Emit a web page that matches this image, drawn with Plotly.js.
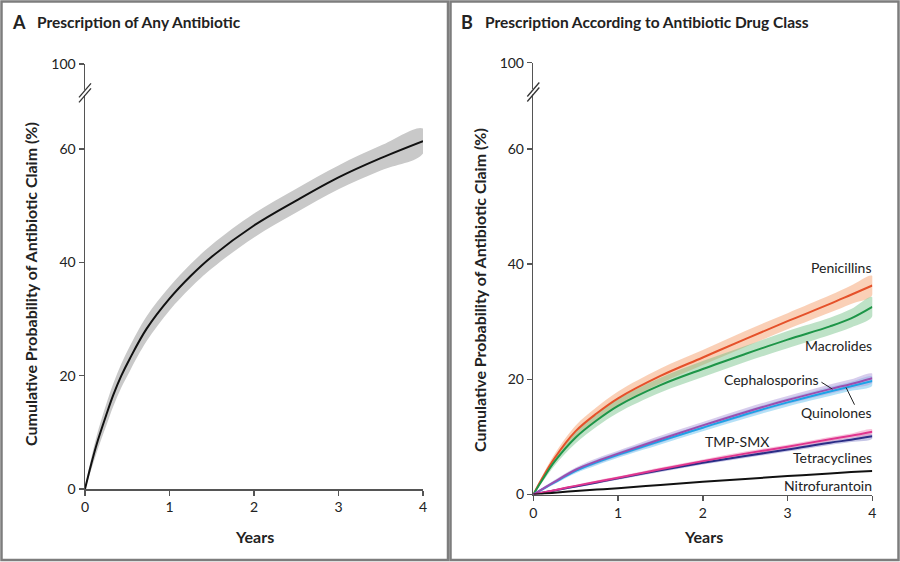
<!DOCTYPE html>
<html>
<head>
<meta charset="utf-8">
<script src="https://cdn.plot.ly/plotly-3.0.1.min.js"></script>
<style>html,body{margin:0;padding:0;background:#fff;}#chart{width:900px;height:562px;}</style>
</head>
<body>
<div id="chart"></div>
<script>
// ---------- DATA ----------
// Panel A: any antibiotic
const yearsA = [0, 0.07, 0.14, 0.25, 0.335, 0.43, 0.53, 0.73, 1.0, 1.25, 1.5, 2.0, 2.5, 3.0, 3.5, 4.0];
const anyAntibiotic = [0, 4.2, 8.0, 13.0, 16.6, 20.0, 23.0, 28.3, 33.6, 37.6, 41.0, 46.5, 50.9, 55.0, 58.4, 61.4];
const anyHalfCI = [0, 1.0, 1.5, 1.9, 2.0, 2.1, 2.2, 2.2, 2.1, 2.1, 2.1, 2.1, 2.1, 2.1, 2.2, 2.2];

// Panel B: by drug class
const yearsB = [0, 0.1, 0.25, 0.5, 0.75, 1, 1.5, 2, 2.5, 3, 3.5, 3.75, 4];
const penicillins    = [0, 2.7, 6.3, 11.0, 14.1, 16.7, 20.6, 23.8, 27.0, 30.1, 33.1, 34.7, 36.3];
const macrolides     = [0, 2.4, 5.7, 9.9, 12.9, 15.4, 19.0, 21.8, 24.4, 26.9, 29.2, 30.6, 32.6];
const cephalosporins = [0, 0.9, 2.2, 4.3, 5.8, 7.1, 9.6, 12.0, 14.3, 16.4, 18.3, 19.2, 20.2];
const quinolones     = [0, 0.85, 2.1, 4.1, 5.6, 6.9, 9.3, 11.6, 13.9, 16.0, 17.9, 18.8, 19.7];
const tmpSmx         = [0, 0.3, 0.75, 1.5, 2.2, 2.9, 4.4, 5.8, 7.1, 8.3, 9.6, 10.2, 10.9];
const tetracyclines  = [0, 0.3, 0.7, 1.4, 2.1, 2.8, 4.2, 5.5, 6.7, 7.8, 9.0, 9.5, 10.1];
const nitrofurantoin = [0, 0.1, 0.3, 0.6, 0.85, 1.1, 1.65, 2.2, 2.7, 3.2, 3.65, 3.9, 4.1];

const penHalfCI  = [0, 0.4, 0.7, 1.0, 1.1, 1.2, 1.3, 1.3, 1.4, 1.4, 1.5, 1.6, 1.7];
const macHalfCI  = [0, 0.4, 0.7, 1.0, 1.1, 1.2, 1.3, 1.4, 1.4, 1.5, 1.5, 1.6, 1.7];
const cephHalfCI = [0, 0.2, 0.3, 0.4, 0.5, 0.5, 0.6, 0.6, 0.7, 0.7, 0.8, 0.8, 0.8];
const quinHalfCI = [0, 0.2, 0.3, 0.4, 0.5, 0.5, 0.6, 0.6, 0.7, 0.7, 0.8, 0.8, 0.8];
const tmpHalfCI  = [0, 0.1, 0.15, 0.2, 0.25, 0.25, 0.3, 0.3, 0.35, 0.35, 0.4, 0.4, 0.4];
const tetHalfCI  = [0, 0.1, 0.15, 0.2, 0.25, 0.25, 0.3, 0.3, 0.35, 0.35, 0.4, 0.4, 0.4];

const yTickVals = [0, 20, 40, 60, 75];
const yTickText = ['0', '20', '40', '60', '100'];
const xTickVals = [0, 1, 2, 3, 4];

const classNames = ['Penicillins', 'Macrolides', 'Cephalosporins', 'Quinolones', 'TMP-SMX', 'Tetracyclines', 'Nitrofurantoin'];

// ---------- BUILD ----------
const FONT = 'Lato, "Open Sans", sans-serif';
const W = 900, H = 562;
const px = v => v / W, py = v => 1 - v / H;

function band(x, y, hw, color, xa, ya) {
  const up = y.map((v, i) => v + hw[i]);
  const lo = y.map((v, i) => Math.max(0, v - hw[i]));
  return {x: x.concat(x.slice().reverse()), y: up.concat(lo.slice().reverse()),
    type: 'scatter', mode: 'lines', fill: 'toself', fillcolor: color,
    line: {width: 0, shape: 'spline', smoothing: 1}, hoverinfo: 'skip', showlegend: false, xaxis: xa, yaxis: ya};
}
function line(x, y, color, w, xa, ya, name) {
  return {x: x, y: y, type: 'scatter', mode: 'lines', name: name,
    line: {color: color, width: w, shape: 'spline', smoothing: 1}, showlegend: false, xaxis: xa, yaxis: ya};
}

const series = [
  {y: penicillins, hw: penHalfCI, line: '#e5512a', fill: 'rgba(245,150,95,0.45)'},
  {y: macrolides, hw: macHalfCI, line: '#1d9548', fill: 'rgba(110,190,130,0.45)'},
  {y: quinolones, hw: quinHalfCI, line: '#1ea2e6', fill: 'rgba(120,200,240,0.55)'},
  {y: cephalosporins, hw: cephHalfCI, line: '#9a4fb0', fill: 'rgba(175,155,220,0.5)'},
  {y: tetracyclines, hw: tetHalfCI, line: '#2b2d86', fill: 'rgba(140,140,205,0.5)'},
  {y: tmpSmx, hw: tmpHalfCI, line: '#e0358f', fill: 'rgba(240,140,185,0.5)'},
];

const traces = [
  band(yearsA, anyAntibiotic, anyHalfCI, '#c9c9c9', 'x', 'y'),
  line(yearsA, anyAntibiotic, '#111', 2, 'x', 'y', 'Any antibiotic')
];
series.forEach(s => traces.push(band(yearsB, s.y, s.hw, s.fill, 'x2', 'y2')));
series.forEach(s => traces.push(line(yearsB, s.y, s.line, 2, 'x2', 'y2')));
traces.push(line(yearsB, nitrofurantoin, '#111', 2, 'x2', 'y2', 'Nitrofurantoin'));

const axisCommon = {
  showgrid: false, zeroline: false, showline: true, linecolor: '#555', linewidth: 1.5,
  ticks: 'outside', ticklen: 5, tickwidth: 1.5, tickcolor: '#555',
  tickfont: {family: FONT, size: 14, color: '#222'}, fixedrange: true
};
const xA = Object.assign({}, axisCommon, {domain: [px(85), px(423)], range: [0, 4], tickvals: xTickVals, anchor: 'y'});
const yA = Object.assign({}, axisCommon, {domain: [1 - 489 / H, 1 - 64 / H], range: [0, 75], tickvals: yTickVals, ticktext: yTickText, anchor: 'x'});
const xB = Object.assign({}, axisCommon, {domain: [px(533.3), px(872.3)], range: [0, 4], tickvals: xTickVals, anchor: 'y2'});
const yB = Object.assign({}, axisCommon, {domain: [1 - 494.5 / H, 1 - 62.7 / H], range: [0, 75], tickvals: yTickVals, ticktext: yTickText, anchor: 'x2'});

function breakShapes(xd, yd) {
  const base = {xref: xd, yref: yd, xsizemode: 'pixel', xanchor: 0, ysizemode: 'pixel', yanchor: 70};
  return [
    Object.assign({type: 'rect', x0: -2.5, x1: 2.5, y0: -3, y1: 2.5, fillcolor: '#fff', line: {width: 0}}, base),
    Object.assign({type: 'line', x0: -6, x1: 6, y0: -10, y1: 4, line: {color: '#333', width: 1.3}}, base),
    Object.assign({type: 'line', x0: -6, x1: 6, y0: -5, y1: 9, line: {color: '#333', width: 1.3}}, base)
  ];
}

const shapes = [
  {type: 'rect', xref: 'paper', yref: 'paper', x0: px(1.5), x1: px(448), y0: py(560), y1: py(1.5), line: {color: '#7d7d7d', width: 2.5}},
  {type: 'rect', xref: 'paper', yref: 'paper', x0: px(450.5), x1: px(898.5), y0: py(560), y1: py(1.5), line: {color: '#7d7d7d', width: 2.5}},
  ...breakShapes('x domain', 'y'),
  ...breakShapes('x2 domain', 'y2'),
  // leader lines
  {type: 'line', xref: 'x2', yref: 'y2', x0: 3.40, y0: 19.5, x1: 3.53, y1: 18.3, line: {color: '#222', width: 1}},
  {type: 'line', xref: 'x2', yref: 'y2', x0: 3.69, y0: 18.6, x1: 3.79, y1: 15.6, line: {color: '#222', width: 1}}
];

const titleFont = {family: FONT, size: 15.5, color: '#222', weight: 700};
const labelFont = {family: FONT, size: 14, color: '#222'};
function pAnn(x, y, text, font, opts) {
  return Object.assign({xref: 'paper', yref: 'paper', x: px(x), y: py(y), text: text, showarrow: false, font: font, xanchor: 'left', yanchor: 'middle'}, opts || {});
}
function rAnn(v, text) {
  return {xref: 'paper', yref: 'y2', x: px(874), y: v, text: text, showarrow: false, font: labelFont, xanchor: 'right', yanchor: 'middle'};
}
function bAnn(x, y, text, opts) {
  return Object.assign({xref: 'x2', yref: 'y2', x: x, y: y, text: text, showarrow: false, font: labelFont, xanchor: 'right', yanchor: 'middle'}, opts || {});
}
const axTitleFont = {family: FONT, size: 16, color: '#222', weight: 700};
const annotations = [
  pAnn(10, 22, 'A', {family: FONT, size: 18, color: '#222', weight: 700}),
  pAnn(35, 22, 'Prescription of Any Antibiotic', titleFont),
  pAnn(459, 22, 'B', {family: FONT, size: 18, color: '#222', weight: 700}),
  pAnn(483, 22, 'Prescription According to Antibiotic Drug Class', titleFont),
  pAnn(30, 284, 'Cumulative Probability of Antibiotic Claim (%)', axTitleFont, {textangle: -90, xanchor: 'center'}),
  pAnn(479, 290, 'Cumulative Probability of Antibiotic Claim (%)', axTitleFont, {textangle: -90, xanchor: 'center'}),
  pAnn(254, 536, 'Years', axTitleFont, {xanchor: 'center'}),
  pAnn(703, 536, 'Years', axTitleFont, {xanchor: 'center'}),
  rAnn(39.4, classNames[0]),
  rAnn(25.8, classNames[1]),
  bAnn(3.39, 19.9, classNames[2]),
  rAnn(14.3, classNames[3]),
  bAnn(2.4, 9.2, classNames[4], {xanchor: 'center'}),
  rAnn(6.5, classNames[5]),
  rAnn(1.5, classNames[6])
];

const layout = {
  width: W, height: H, margin: {l: 0, r: 0, t: 0, b: 0},
  paper_bgcolor: '#fff', plot_bgcolor: 'rgba(0,0,0,0)',
  font: {family: FONT, color: '#222'},
  showlegend: false,
  xaxis: xA, yaxis: yA, xaxis2: xB, yaxis2: yB,
  shapes: shapes, annotations: annotations
};
Plotly.newPlot('chart', traces, layout, {displayModeBar: false, staticPlot: true});
</script>
</body>
</html>
